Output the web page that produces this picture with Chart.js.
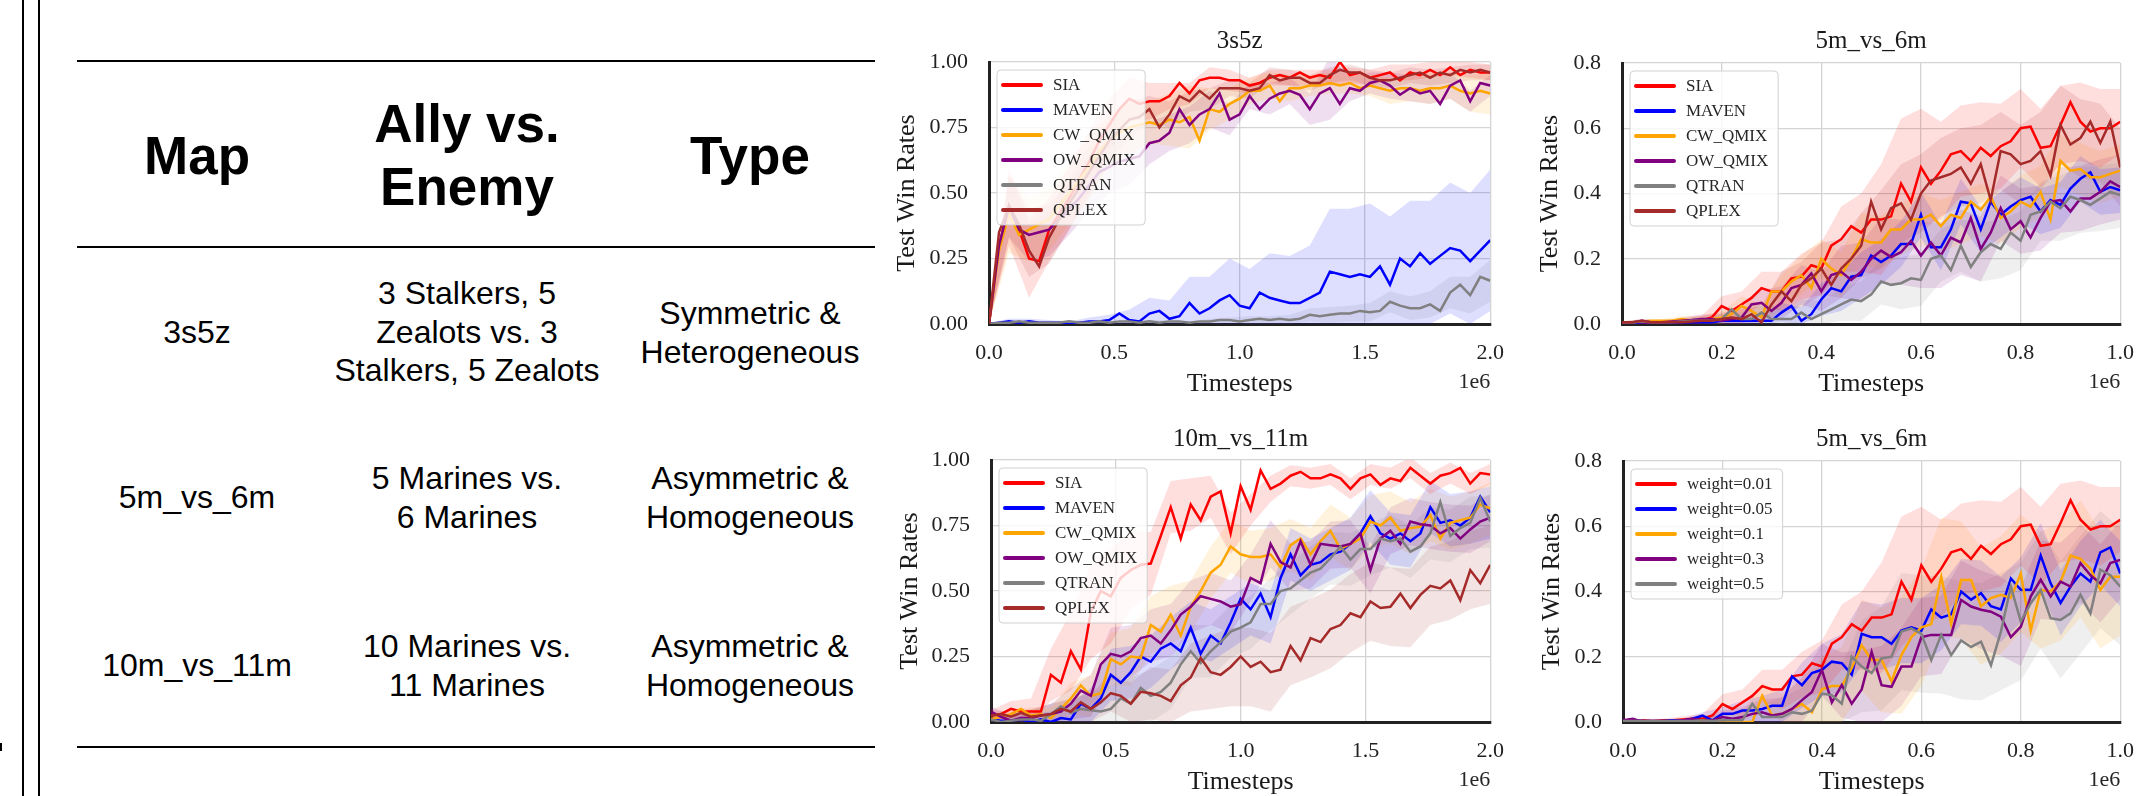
<!DOCTYPE html>
<html>
<head>
<meta charset="utf-8">
<script src="https://cdn.jsdelivr.net/npm/chart.js@4.4.1/dist/chart.umd.min.js"></script>
<style>
html,body{margin:0;padding:0;background:#fff;}
body{width:2150px;height:796px;overflow:hidden;position:relative;font-family:"Liberation Sans",Arial,sans-serif;color:#000;}
.vline{position:absolute;top:0;height:796px;width:2px;background:#000;}
.hline{position:absolute;left:77px;width:798px;height:2.5px;background:#000;}
.cell{position:absolute;transform:translate(-50%,-50%);text-align:center;white-space:nowrap;}
.hd{font-weight:bold;font-size:53px;line-height:63px;}
.bd{font-size:32px;line-height:38.5px;}
.chartbox{position:absolute;}
.chartbox canvas{display:block;}
</style>
</head>
<body>
<div class="vline" style="left:22px"></div>
<div class="vline" style="left:38px"></div>
<div style="position:absolute;left:0;top:743px;width:2px;height:8px;background:#000"></div>
<div class="hline" style="top:59.5px"></div>
<div class="hline" style="top:245.5px"></div>
<div class="hline" style="top:745.5px"></div>
<div id="table"></div>

<div class="chartbox" style="left:880px;top:0px;width:640px;height:400px"><canvas id="c1" width="640" height="400"></canvas></div>
<div class="chartbox" style="left:1520px;top:0px;width:630px;height:400px"><canvas id="c2" width="630" height="400"></canvas></div>
<div class="chartbox" style="left:880px;top:398px;width:640px;height:400px"><canvas id="c3" width="640" height="400"></canvas></div>
<div class="chartbox" style="left:1520px;top:398px;width:630px;height:400px"><canvas id="c4" width="630" height="400"></canvas></div>

<script>
// ---------------- TABLE CONTENT ----------------
const tableHeaders = ['Map', 'Ally vs.\nEnemy', 'Type'];
const mapNames = ['3s5z', '5m_vs_6m', '10m_vs_11m'];
const allyVsEnemy = ['3 Stalkers, 5\nZealots vs. 3\nStalkers, 5 Zealots', '5 Marines vs.\n6 Marines', '10 Marines vs.\n11 Marines'];
const mapTypes = ['Symmetric &\nHeterogeneous', 'Asymmetric &\nHomogeneous', 'Asymmetric &\nHomogeneous'];

// ---------------- CHART DATA ----------------
const xTicks2M = [0, 0.5, 1.0, 1.5, 2.0];
const xTicks1M = [0, 0.2, 0.4, 0.6, 0.8, 1.0];
const yTicksWin1 = [0, 0.25, 0.5, 0.75, 1.0];
const yTicksWin08 = [0, 0.2, 0.4, 0.6, 0.8];
const steps2M = Array.from({length: 51}, (_, k) => +(k * 0.04).toFixed(2)); // timesteps (1e6)
const steps1M = Array.from({length: 51}, (_, k) => +(k * 0.02).toFixed(2)); // timesteps (1e6)

// 3s5z
const sia3s5z   = [0,0.30,0.45,0.36,0.25,0.24,0.36,0.42,0.48,0.55,0.62,0.70,0.76,0.82,0.86,0.84,0.85,0.85,0.87,0.92,0.88,0.93,0.94,0.94,0.93,0.93,0.91,0.92,0.94,0.95,0.94,0.96,0.94,0.95,0.94,1.00,0.95,0.96,0.94,0.95,0.96,0.93,0.96,0.95,0.97,0.95,0.98,0.95,0.97,0.96,0.96];
const maven3s5z = [0,0.005,0.01,0.005,0.01,0.005,0.005,0.005,0,0.005,0.01,0.01,0.015,0.04,0.015,0.01,0.04,0.05,0.02,0.03,0.08,0.04,0.06,0.09,0.11,0.07,0.06,0.12,0.10,0.09,0.08,0.08,0.10,0.12,0.20,0.19,0.18,0.19,0.18,0.22,0.15,0.25,0.22,0.27,0.23,0.26,0.29,0.28,0.24,0.28,0.32];
const cw3s5z    = [0,0.28,0.42,0.34,0.36,0.38,0.40,0.45,0.50,0.55,0.60,0.66,0.70,0.73,0.75,0.76,0.77,0.76,0.78,0.77,0.79,0.70,0.82,0.81,0.84,0.86,0.89,0.89,0.91,0.85,0.90,0.90,0.91,0.91,0.92,0.91,0.92,0.90,0.91,0.90,0.89,0.90,0.90,0.89,0.90,0.90,0.91,0.89,0.88,0.89,0.88];
const ow3s5z    = [0,0.30,0.45,0.36,0.34,0.35,0.36,0.40,0.44,0.48,0.53,0.58,0.60,0.62,0.63,0.64,0.69,0.70,0.73,0.82,0.76,0.80,0.82,0.88,0.78,0.80,0.87,0.82,0.86,0.88,0.89,0.875,0.82,0.88,0.90,0.84,0.90,0.89,0.92,0.93,0.91,0.875,0.90,0.88,0.89,0.84,0.91,0.93,0.85,0.92,0.91];
const qtran3s5z = [0,0.005,0.005,0.01,0.005,0.005,0.005,0.005,0.01,0.005,0.005,0.01,0.005,0.01,0.01,0.005,0.01,0.005,0.01,0.01,0.005,0.01,0.01,0.015,0.015,0.01,0.015,0.02,0.015,0.02,0.015,0.02,0.035,0.03,0.035,0.04,0.04,0.05,0.045,0.05,0.085,0.07,0.06,0.06,0.075,0.05,0.12,0.15,0.11,0.18,0.165];
const qplex3s5z = [0,0.35,0.45,0.38,0.28,0.22,0.33,0.40,0.46,0.52,0.58,0.64,0.70,0.74,0.78,0.79,0.82,0.75,0.80,0.87,0.85,0.89,0.86,0.90,0.90,0.90,0.89,0.90,0.95,0.93,0.94,0.94,0.92,0.92,0.95,0.97,0.96,0.96,0.94,0.93,0.93,0.94,0.95,0.96,0.94,0.96,0.95,0.97,0.96,0.97,0.96];
// spread (std) at every second timestep
const sdSia3s5z   = [0,0.15,0.15,0.12,0.12,0.12,0.10,0.08,0.07,0.05,0.04,0.04,0.04,0.03,0.03,0.03,0.03,0.03,0.03,0.03,0.03,0.03,0.03,0.03,0.03,0.03];
const sdMaven3s5z = [0.005,0.01,0.01,0.01,0.01,0.015,0.02,0.04,0.06,0.07,0.10,0.12,0.14,0.15,0.17,0.18,0.20,0.24,0.26,0.28,0.26,0.25,0.24,0.25,0.26,0.27];
const sdCw3s5z    = [0,0.15,0.12,0.12,0.12,0.12,0.10,0.10,0.08,0.10,0.12,0.08,0.06,0.05,0.05,0.05,0.04,0.04,0.04,0.04,0.05,0.05,0.06,0.05,0.07,0.08];
const sdOw3s5z    = [0,0.12,0.10,0.10,0.10,0.10,0.10,0.10,0.08,0.07,0.07,0.07,0.06,0.05,0.06,0.05,0.06,0.12,0.05,0.04,0.05,0.05,0.05,0.05,0.04,0.04];
const sdQtran3s5z = [0,0.005,0.005,0.005,0.005,0.005,0.005,0.005,0.005,0.005,0.005,0.01,0.01,0.015,0.015,0.02,0.025,0.03,0.03,0.035,0.04,0.045,0.05,0.06,0.07,0.08];
const sdQplex3s5z = [0,0.12,0.10,0.10,0.10,0.10,0.08,0.07,0.05,0.05,0.04,0.04,0.03,0.03,0.03,0.03,0.03,0.03,0.03,0.03,0.03,0.03,0.03,0.03,0.03,0.03];

// 5m_vs_6m
const sia5m   = [0,0,0.005,0.003,0.005,0.005,0.008,0.01,0.01,0.02,0.055,0.04,0.06,0.08,0.11,0.10,0.10,0.14,0.145,0.18,0.17,0.24,0.26,0.30,0.28,0.32,0.32,0.33,0.43,0.375,0.48,0.43,0.47,0.52,0.53,0.50,0.54,0.515,0.545,0.56,0.60,0.605,0.54,0.545,0.61,0.68,0.62,0.59,0.60,0.60,0.62];
const maven5m = [0.003,0.003,0.005,0.005,0.005,0.003,0.005,0.005,0.005,0.005,0.01,0.01,0.01,0.01,0.01,0.01,0.035,0.055,0.01,0.03,0.075,0.11,0.10,0.145,0.15,0.21,0.19,0.21,0.245,0.245,0.335,0.235,0.235,0.29,0.375,0.37,0.29,0.375,0.335,0.36,0.38,0.39,0.345,0.38,0.365,0.415,0.445,0.465,0.405,0.42,0.41];
const cw5m    = [0.005,0.005,0.008,0.01,0.01,0.01,0.015,0.01,0.01,0.015,0.02,0.03,0.055,0.04,0.02,0.10,0.10,0.13,0.15,0.11,0.20,0.17,0.15,0.20,0.26,0.25,0.25,0.29,0.29,0.32,0.32,0.335,0.30,0.335,0.325,0.375,0.35,0.39,0.325,0.345,0.375,0.36,0.405,0.32,0.50,0.47,0.475,0.45,0.45,0.46,0.47];
const ow5m    = [0.005,0.005,0.01,0.005,0.005,0.008,0.01,0.012,0.015,0.015,0.01,0.015,0.02,0.06,0.065,0.04,0.065,0.11,0.12,0.155,0.10,0.15,0.16,0.135,0.16,0.20,0.225,0.205,0.22,0.255,0.21,0.25,0.21,0.265,0.25,0.325,0.23,0.28,0.355,0.29,0.315,0.265,0.325,0.375,0.38,0.345,0.385,0.385,0.405,0.437,0.42];
const qtran5m = [0.005,0.005,0.008,0.005,0.005,0.005,0.008,0.01,0.01,0.01,0.015,0.045,0.015,0.015,0.035,0.015,0.015,0.015,0.035,0.015,0.03,0.045,0.06,0.075,0.07,0.09,0.13,0.12,0.125,0.14,0.135,0.20,0.21,0.165,0.24,0.175,0.22,0.245,0.23,0.28,0.255,0.335,0.345,0.375,0.355,0.39,0.38,0.365,0.385,0.405,0.395];
const qplex5m = [0.005,0.005,0.01,0.005,0.005,0.005,0.005,0.008,0.01,0.01,0.015,0.02,0.015,0.03,0.005,0.06,0.10,0.07,0.12,0.14,0.17,0.12,0.17,0.20,0.24,0.375,0.29,0.355,0.37,0.32,0.40,0.44,0.45,0.46,0.48,0.43,0.49,0.38,0.53,0.52,0.49,0.50,0.53,0.455,0.61,0.55,0.57,0.62,0.555,0.62,0.48];
const sdSia5m   = [0.003,0.005,0.005,0.01,0.015,0.03,0.04,0.05,0.06,0.07,0.08,0.10,0.12,0.17,0.20,0.18,0.15,0.14,0.14,0.13,0.12,0.12,0.12,0.12,0.12,0.10];
const sdMaven5m = [0.002,0.003,0.003,0.005,0.005,0.01,0.015,0.02,0.03,0.04,0.05,0.06,0.07,0.07,0.07,0.07,0.07,0.07,0.07,0.07,0.07,0.07,0.07,0.07,0.07,0.07];
const sdCw5m    = [0.003,0.005,0.005,0.01,0.015,0.02,0.03,0.04,0.05,0.06,0.06,0.07,0.08,0.08,0.08,0.08,0.08,0.08,0.08,0.08,0.08,0.08,0.08,0.08,0.08,0.08];
const sdOw5m    = [0.003,0.005,0.005,0.01,0.015,0.02,0.03,0.04,0.05,0.06,0.06,0.08,0.09,0.10,0.10,0.10,0.10,0.10,0.10,0.10,0.10,0.10,0.10,0.10,0.10,0.10];
const sdQtran5m = [0.002,0.003,0.003,0.005,0.01,0.015,0.02,0.03,0.03,0.04,0.04,0.05,0.06,0.07,0.08,0.08,0.08,0.08,0.09,0.09,0.09,0.09,0.10,0.10,0.10,0.10];
const sdQplex5m = [0.003,0.005,0.005,0.01,0.015,0.02,0.03,0.05,0.06,0.07,0.08,0.09,0.10,0.12,0.12,0.12,0.12,0.12,0.12,0.12,0.12,0.12,0.12,0.12,0.12,0.12];

// 10m_vs_11m
const sia10m   = [0.025,0.03,0.05,0.04,0.04,0.04,0.18,0.15,0.27,0.20,0.42,0.50,0.48,0.55,0.58,0.60,0.605,0.71,0.82,0.70,0.83,0.77,0.86,0.88,0.72,0.90,0.81,0.96,0.89,0.91,0.94,0.955,0.93,0.93,0.945,0.93,0.89,0.93,0.945,0.905,0.93,0.92,0.97,0.94,0.91,0.94,0.95,0.97,0.91,0.95,0.945];
const maven10m = [0.01,0.005,0.005,0.01,0,0.01,0,0.015,0.01,0.07,0.05,0.09,0.18,0.15,0.19,0.25,0.23,0.28,0.30,0.27,0.36,0.26,0.33,0.30,0.38,0.47,0.43,0.49,0.40,0.55,0.64,0.56,0.60,0.61,0.64,0.65,0.68,0.72,0.785,0.72,0.70,0.72,0.69,0.72,0.82,0.76,0.77,0.75,0.78,0.86,0.80];
const cw10m    = [0.01,0.02,0.03,0.05,0.025,0.03,0.015,0.05,0.09,0.14,0.10,0.11,0.24,0.22,0.25,0.245,0.37,0.345,0.41,0.33,0.44,0.50,0.57,0.60,0.67,0.64,0.63,0.63,0.64,0.59,0.675,0.70,0.64,0.69,0.73,0.66,0.68,0.70,0.765,0.75,0.78,0.73,0.74,0.745,0.79,0.70,0.76,0.77,0.78,0.83,0.815];
const ow10m    = [0.04,0.02,0.005,0.015,0.015,0.025,0.03,0.04,0.07,0.12,0.10,0.22,0.26,0.25,0.27,0.32,0.33,0.30,0.35,0.41,0.44,0.48,0.47,0.46,0.44,0.45,0.55,0.53,0.68,0.61,0.59,0.69,0.60,0.68,0.675,0.67,0.68,0.72,0.58,0.70,0.73,0.68,0.765,0.755,0.75,0.72,0.74,0.70,0.735,0.765,0.78];
const qtran10m = [0.01,0,0.005,0.01,0.01,0.005,0.03,0.06,0.035,0.05,0.045,0.04,0.05,0.09,0.07,0.13,0.10,0.115,0.15,0.22,0.27,0.225,0.27,0.305,0.345,0.36,0.38,0.45,0.45,0.50,0.51,0.54,0.57,0.585,0.625,0.67,0.62,0.66,0.66,0.70,0.69,0.70,0.65,0.67,0.72,0.84,0.71,0.74,0.76,0.855,0.765];
const qplex10m = [0.025,0.03,0.02,0.035,0.02,0.025,0.03,0.05,0.04,0.075,0.05,0.075,0.11,0.10,0.07,0.115,0.11,0.10,0.08,0.14,0.17,0.245,0.19,0.18,0.21,0.25,0.21,0.23,0.19,0.20,0.29,0.235,0.32,0.305,0.355,0.37,0.415,0.40,0.46,0.435,0.44,0.49,0.435,0.485,0.52,0.51,0.54,0.465,0.58,0.53,0.60];
const sdSia10m   = [0.02,0.03,0.05,0.10,0.15,0.18,0.18,0.15,0.12,0.10,0.10,0.08,0.08,0.06,0.05,0.04,0.04,0.04,0.04,0.04,0.04,0.04,0.04,0.04,0.04,0.04];
const sdMaven10m = [0.02,0.02,0.03,0.04,0.06,0.08,0.10,0.10,0.10,0.10,0.10,0.10,0.10,0.10,0.10,0.10,0.10,0.10,0.10,0.10,0.10,0.10,0.10,0.10,0.10,0.10];
const sdCw10m    = [0.02,0.02,0.03,0.04,0.06,0.08,0.10,0.11,0.11,0.11,0.10,0.10,0.10,0.10,0.10,0.10,0.10,0.10,0.10,0.10,0.10,0.10,0.10,0.10,0.10,0.10];
const sdOw10m    = [0.02,0.02,0.03,0.04,0.06,0.08,0.10,0.10,0.10,0.10,0.10,0.10,0.10,0.09,0.09,0.09,0.09,0.09,0.09,0.09,0.09,0.09,0.09,0.09,0.09,0.09];
const sdQtran10m = [0.02,0.02,0.03,0.04,0.05,0.07,0.09,0.10,0.10,0.10,0.10,0.10,0.10,0.10,0.10,0.10,0.10,0.10,0.10,0.10,0.10,0.10,0.10,0.10,0.10,0.10];
const sdQplex10m = [0.02,0.02,0.03,0.04,0.05,0.06,0.07,0.08,0.10,0.12,0.13,0.14,0.15,0.15,0.15,0.15,0.15,0.15,0.15,0.15,0.15,0.15,0.15,0.15,0.15,0.15];

// 5m_vs_6m weight ablation
const weight001 = [0,0,0.005,0.003,0.005,0.005,0.008,0.01,0.01,0.02,0.055,0.04,0.06,0.08,0.11,0.10,0.10,0.14,0.145,0.18,0.17,0.24,0.26,0.30,0.28,0.32,0.32,0.33,0.43,0.375,0.48,0.43,0.47,0.52,0.53,0.50,0.54,0.515,0.545,0.56,0.60,0.605,0.54,0.545,0.61,0.68,0.62,0.59,0.60,0.60,0.62];
const weight005 = [0.005,0.005,0.003,0.003,0.003,0.005,0.005,0.01,0.02,0.005,0.025,0.025,0.035,0.035,0.04,0.05,0.05,0.14,0.113,0.15,0.16,0.185,0.18,0.145,0.27,0.26,0.26,0.24,0.28,0.29,0.28,0.345,0.32,0.33,0.40,0.375,0.395,0.355,0.345,0.44,0.405,0.405,0.51,0.425,0.365,0.415,0.455,0.43,0.52,0.535,0.455];
const weight01  = [0,0,0,0,0,0,0,0.003,0.005,0,0.005,0.002,0,0,0.08,0.02,0.025,0.04,0.055,0.03,0.10,0.11,0.11,0.165,0.235,0.19,0.19,0.125,0.205,0.26,0.29,0.30,0.445,0.30,0.435,0.435,0.355,0.38,0.39,0.38,0.455,0.28,0.405,0.40,0.43,0.51,0.50,0.47,0.405,0.445,0.445];
const weight03  = [0.005,0.01,0,0.002,0.002,0.003,0.005,0.01,0.005,0.005,0.015,0.01,0.015,0.025,0.03,0.02,0.025,0.04,0.067,0.092,0.16,0.06,0.113,0.056,0.10,0.215,0.113,0.108,0.17,0.17,0.26,0.267,0.267,0.267,0.374,0.354,0.344,0.338,0.323,0.26,0.292,0.385,0.436,0.385,0.43,0.415,0.487,0.45,0.425,0.487,0.497];
const weight05  = [0.003,0.003,0.003,0.003,0.003,0.003,0.003,0.003,0.005,0.003,0.005,0.005,0.005,0.056,0.015,0.015,0.015,0.03,0.025,0.035,0.087,0.082,0.056,0.20,0.17,0.15,0.195,0.20,0.277,0.287,0.27,0.19,0.267,0.205,0.25,0.23,0.246,0.174,0.277,0.415,0.308,0.364,0.405,0.318,0.313,0.333,0.39,0.333,0.467,0.45,0.415];
const sdWeight001 = [0.003,0.005,0.005,0.01,0.015,0.03,0.04,0.05,0.06,0.07,0.08,0.10,0.12,0.17,0.20,0.18,0.15,0.14,0.14,0.13,0.12,0.12,0.12,0.12,0.12,0.10];
const sdWeight005 = [0.003,0.003,0.003,0.005,0.01,0.02,0.03,0.04,0.05,0.07,0.08,0.09,0.10,0.10,0.10,0.10,0.10,0.10,0.10,0.10,0.10,0.10,0.10,0.10,0.10,0.10];
const sdWeight01  = [0.003,0.003,0.003,0.005,0.01,0.02,0.03,0.04,0.06,0.08,0.10,0.12,0.14,0.16,0.18,0.18,0.18,0.18,0.18,0.18,0.18,0.18,0.18,0.18,0.18,0.18];
const sdWeight03  = [0.003,0.003,0.003,0.005,0.01,0.02,0.03,0.04,0.05,0.07,0.08,0.10,0.12,0.12,0.12,0.12,0.12,0.12,0.12,0.12,0.12,0.12,0.12,0.12,0.12,0.12];
const sdWeight05  = [0.003,0.003,0.003,0.005,0.01,0.02,0.03,0.04,0.06,0.08,0.10,0.12,0.14,0.16,0.18,0.18,0.18,0.18,0.18,0.18,0.18,0.18,0.18,0.18,0.18,0.18];

const methodLabels = ['SIA', 'MAVEN', 'CW_QMIX', 'OW_QMIX', 'QTRAN', 'QPLEX'];
const weightLabels = ['weight=0.01', 'weight=0.05', 'weight=0.1', 'weight=0.3', 'weight=0.5'];

// ---------------- BUILD TABLE ----------------
(function buildTable() {
  const t = document.getElementById('table');
  const colX = [197, 467, 750];
  const rowY = [332, 497, 665];
  function add(text, x, y, cls) {
    const d = document.createElement('div');
    d.className = 'cell ' + cls;
    d.style.left = x + 'px';
    d.style.top = y + 'px';
    d.innerHTML = text.split('\n').map(s => s.replace(/&/g, '&amp;')).join('<br>');
    t.appendChild(d);
  }
  tableHeaders.forEach((h, i) => add(h, colX[i], 155, 'hd'));
  mapNames.forEach((m, r) => {
    add(m, colX[0], rowY[r], 'bd');
    add(allyVsEnemy[r], colX[1], rowY[r], 'bd');
    add(mapTypes[r], colX[2], rowY[r], 'bd');
  });
})();

// ---------------- CHARTS ----------------
const SERIF = '"Liberation Serif", "Times New Roman", serif';
const COLORS = ['#ff0000', '#0000ff', '#ffa500', '#800080', '#808080', '#a52a2a'];
function rgba(hex, a) {
  const n = parseInt(hex.slice(1), 16);
  return `rgba(${(n >> 16) & 255},${(n >> 8) & 255},${n & 255},${a})`;
}

const overlayPlugin = {
  id: 'overlay',
  afterDatasetsDraw(chart) {
    const ctx = chart.ctx, ca = chart.chartArea;
    const items = chart.data.datasets.filter(d => !d.isBand);
    items.sort((a, b) => a.legendIndex - b.legendIndex);
    ctx.save();
    ctx.font = '17px ' + SERIF;
    const maxW = Math.max(...items.map(d => ctx.measureText(d.label).width));
    const bx = ca.left + 8, by = ca.top + 8;
    const bw = 56 + maxW + 10;
    const bh = 30 + 25 * (items.length - 1);
    const r = 4;
    ctx.beginPath();
    ctx.moveTo(bx + r, by);
    ctx.lineTo(bx + bw - r, by); ctx.quadraticCurveTo(bx + bw, by, bx + bw, by + r);
    ctx.lineTo(bx + bw, by + bh - r); ctx.quadraticCurveTo(bx + bw, by + bh, bx + bw - r, by + bh);
    ctx.lineTo(bx + r, by + bh); ctx.quadraticCurveTo(bx, by + bh, bx, by + bh - r);
    ctx.lineTo(bx, by + r); ctx.quadraticCurveTo(bx, by, bx + r, by);
    ctx.closePath();
    ctx.fillStyle = 'rgba(255,255,255,0.8)';
    ctx.fill();
    ctx.strokeStyle = 'rgba(204,204,204,0.9)';
    ctx.lineWidth = 1;
    ctx.stroke();
    items.forEach((d, i) => {
      const y = by + 15 + 25 * i;
      ctx.beginPath();
      ctx.moveTo(bx + 6, y); ctx.lineTo(bx + 44, y);
      ctx.strokeStyle = d.borderColor; ctx.lineWidth = 4; ctx.lineCap = 'round';
      ctx.stroke();
      ctx.fillStyle = '#262626';
      ctx.textBaseline = 'middle';
      ctx.textAlign = 'left';
      ctx.fillText(d.label, bx + 56, y + 1);
    });
    ctx.restore();
  },
  afterDraw(chart) {
    const ctx = chart.ctx, ca = chart.chartArea;
    ctx.save();
    ctx.font = '22px ' + SERIF;
    ctx.fillStyle = '#262626';
    ctx.textAlign = 'right';
    ctx.textBaseline = 'middle';
    ctx.fillText('1e6', ca.right, ca.bottom + 58);
    ctx.restore();
  }
};

function makeChart(spec) {
  const datasets = [];
  spec.series.forEach((s) => {
    const hi = [], lo = [];
    s.sd.forEach((w, j) => {
      const idx = j * 2;
      hi.push({x: spec.xs[idx], y: s.data[idx] + w});
      lo.push({x: spec.xs[idx], y: Math.max(0, s.data[idx] - w)});
    });
    datasets.push({data: hi, isBand: true, borderWidth: 0, pointRadius: 0, fill: '+1',
                   backgroundColor: rgba(s.color, 0.13), order: 100});
    datasets.push({data: lo, isBand: true, borderWidth: 0, pointRadius: 0, fill: false, order: 100});
  });
  spec.series.forEach((s, i) => {
    datasets.push({label: s.label, legendIndex: i, data: s.data.map((y, k) => ({x: spec.xs[k], y})),
                   borderColor: s.color, backgroundColor: s.color, borderWidth: 2.5, pointRadius: 0,
                   fill: false, tension: 0, order: spec.series.length - i});
  });
  const p = spec.plot;
  return new Chart(document.getElementById(spec.id), {
    type: 'line',
    data: {datasets},
    plugins: [overlayPlugin],
    options: {
      responsive: false, animation: false, events: [],
      layout: {padding: {left: 0, right: spec.W - p.right, top: 0, bottom: 0}},
      plugins: {
        legend: {display: false}, tooltip: {enabled: false},
        title: {display: true, text: spec.title, fullSize: false, color: '#1a1a1a',
                font: {family: SERIF, size: 25, weight: 'normal', lineHeight: 1.2},
                padding: {top: 26, bottom: p.top - 26 - 30}}
      },
      scales: {
        x: {
          type: 'linear', min: 0, max: spec.xMax,
          afterBuildTicks: (sc) => { sc.ticks = spec.xTicks.map(v => ({value: v})); },
          afterFit: (sc) => { sc.height = spec.H - p.bottom; },
          grid: {color: '#d4d4d4', lineWidth: 1.3, drawTicks: false},
          border: {display: true, color: '#222', width: 3},
          ticks: {callback: (v) => Number(v).toFixed(1), color: '#222', padding: 16,
                  maxRotation: 0, autoSkip: false, font: {family: SERIF, size: 22}},
          title: {display: true, text: 'Timesteps', color: '#1a1a1a', padding: 0,
                  font: {family: SERIF, size: 26, lineHeight: 1.2}}
        },
        y: {
          min: 0, max: spec.yMax,
          afterBuildTicks: (sc) => { sc.ticks = spec.yTicks.map(v => ({value: v})); },
          afterFit: (sc) => { sc.width = p.left; },
          grid: {color: '#d4d4d4', lineWidth: 1.3, drawTicks: false},
          border: {display: true, color: '#222', width: 3},
          ticks: {callback: (v) => Number(v).toFixed(spec.yDigits), color: '#222', padding: 21,
                  font: {family: SERIF, size: 22}},
          title: {display: true, text: 'Test Win Rates', color: '#1a1a1a', padding: spec.yTitlePad,
                  font: {family: SERIF, size: 26, lineHeight: 1.2}}
        }
      }
    }
  });
}

function methodSeries(arrs, sds) {
  return methodLabels.map((l, i) => ({label: l, color: COLORS[i], data: arrs[i], sd: sds[i]}));
}

makeChart({
  id: 'c1', title: '3s5z', W: 640, H: 400, xs: steps2M, xMax: 2.0, xTicks: xTicks2M,
  yMax: 1.0, yTicks: yTicksWin1, yDigits: 2, yTitlePad: 11.4,
  plot: {left: 109, right: 620, top: 62, bottom: 324},
  series: methodSeries([sia3s5z, maven3s5z, cw3s5z, ow3s5z, qtran3s5z, qplex3s5z],
                       [sdSia3s5z, sdMaven3s5z, sdCw3s5z, sdOw3s5z, sdQtran3s5z, sdQplex3s5z])
});
makeChart({
  id: 'c2', title: '5m_vs_6m', W: 630, H: 400, xs: steps1M, xMax: 1.0, xTicks: xTicks1M,
  yMax: 0.8, yTicks: yTicksWin08, yDigits: 1, yTitlePad: 14.4,
  plot: {left: 102, right: 609, top: 63, bottom: 324},
  series: methodSeries([sia5m, maven5m, cw5m, ow5m, qtran5m, qplex5m],
                       [sdSia5m, sdMaven5m, sdCw5m, sdOw5m, sdQtran5m, sdQplex5m])
});
makeChart({
  id: 'c3', title: '10m_vs_11m', W: 640, H: 400, xs: steps2M, xMax: 2.0, xTicks: xTicks2M,
  yMax: 1.0, yTicks: yTicksWin1, yDigits: 2, yTitlePad: 14.4,
  plot: {left: 111, right: 623, top: 62, bottom: 324},
  series: methodSeries([sia10m, maven10m, cw10m, ow10m, qtran10m, qplex10m],
                       [sdSia10m, sdMaven10m, sdCw10m, sdOw10m, sdQtran10m, sdQplex10m])
});
makeChart({
  id: 'c4', title: '5m_vs_6m', W: 630, H: 400, xs: steps1M, xMax: 1.0, xTicks: xTicks1M,
  yMax: 0.8, yTicks: yTicksWin08, yDigits: 1, yTitlePad: 16.4,
  plot: {left: 103, right: 614, top: 63, bottom: 324},
  series: weightLabels.map((l, i) => ({label: l, color: COLORS[i],
    data: [weight001, weight005, weight01, weight03, weight05][i],
    sd: [sdWeight001, sdWeight005, sdWeight01, sdWeight03, sdWeight05][i]}))
});
</script>
</body>
</html>
